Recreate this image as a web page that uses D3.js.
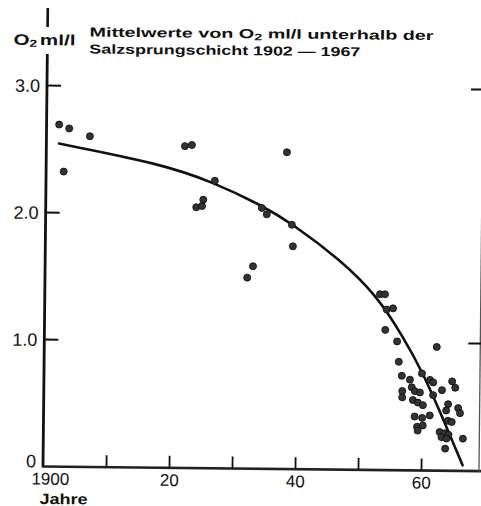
<!DOCTYPE html>
<html>
<head>
<meta charset="utf-8">
<script src="https://cdn.jsdelivr.net/npm/d3@7"></script>
<style>
  html, body { margin: 0; padding: 0; background: #fff; }
  svg { display: block; }
  text { font-family: "Liberation Sans", Arial, sans-serif; fill: #111; }
</style>
</head>
<body>
<svg id="chart" width="481" height="506"></svg>
<script>
// Mean O2 (ml/l) below the halocline, 1902–1967: yearly means and fitted trend.
const obsYears = [
  1902.0, 1903.6, 1906.9, 1902.8,
  1922.0, 1923.1, 1938.2, 1923.9, 1924.8, 1925.0, 1926.8,
  1934.3, 1935.1, 1939.1, 1939.3, 1933.0, 1932.1,
  1953.2, 1954.0, 1954.3, 1955.3, 1954.1, 1956.0, 1956.3, 1956.8, 1962.3,
  1958.1, 1958.4, 1958.9, 1959.7, 1956.9, 1956.9, 1960.0, 1961.3, 1961.8,
  1963.2, 1964.8, 1965.3, 1961.8, 1958.6, 1959.4, 1960.2, 1964.2, 1963.9,
  1965.8, 1966.1, 1958.9, 1961.3, 1960.1, 1959.3, 1960.2, 1959.4, 1964.2,
  1964.8, 1962.9, 1963.7, 1964.3, 1963.2, 1964.0, 1966.6, 1963.8
];
const obsValues = [
  2.69, 2.66, 2.60, 2.32,
  2.53, 2.54, 2.49, 2.05, 2.06, 2.11, 2.26,
  2.05, 2.00, 1.92, 1.75, 1.59, 1.50,
  1.38, 1.38, 1.26, 1.27, 1.10, 1.01, 0.85, 0.74, 0.97,
  0.71, 0.65, 0.62, 0.61, 0.62, 0.57, 0.76, 0.71, 0.69,
  0.63, 0.70, 0.65, 0.59, 0.55, 0.53, 0.51, 0.52, 0.47,
  0.49, 0.45, 0.42, 0.43, 0.41, 0.34, 0.35, 0.31, 0.39,
  0.38, 0.30, 0.29, 0.28, 0.26, 0.25, 0.25, 0.17
];

// Fitted trend curve
const fitYears  = [1902.0, 1918.1, 1926.5, 1934.3, 1939.1, 1946.8, 1952.7, 1956.9, 1960.1, 1963.2, 1966.6];
const fitValues = [2.54,   2.39,   2.25,   2.07,   1.93,   1.65,   1.37,   1.05,   0.77,   0.43,   0.04];

const yTickValues = [0, 1, 2, 3];
const yTickLabels = ["0", "1.0", "2.0", "3.0"];
const xTickValues = [1900, 1910, 1920, 1930, 1940, 1950, 1960];
const xTickLabels = ["1900", "", "20", "", "40", "", "60"];
const rightTickValues = [1, 3];

const svg = d3.select("#chart");

const x = d3.scaleLinear().domain([1900, 1960]).range([43, 421]);
const y = d3.scaleLinear().domain([0, 3]).range([466, 85]);

// whole drawing sits slightly turned, as on the printed sheet
const g = svg.append("g").attr("transform", "rotate(0.6, 43, 466)");

// left axis line, broken around its unit label
g.append("line").attr("x1", 43).attr("x2", 43).attr("y1", 8).attr("y2", 27)
  .attr("stroke", "#111").attr("stroke-width", 2.6);
g.append("line").attr("x1", 43).attr("x2", 43).attr("y1", 54).attr("y2", 467)
  .attr("stroke", "#111").attr("stroke-width", 2.8);

// bottom axis line
g.append("line").attr("x1", 42).attr("x2", 495).attr("y1", 466.5).attr("y2", 466.5)
  .attr("stroke", "#222").attr("stroke-width", 2.6);

// right frame line with inward ticks
g.append("line").attr("x1", 479).attr("x2", 479).attr("y1", y(0) + 1).attr("y2", y(3.2))
  .attr("stroke", "#555").attr("stroke-width", 1.3);
g.selectAll(".rtick").data(rightTickValues).join("line")
  .attr("x1", 467).attr("x2", 480)
  .attr("y1", d => y(d)).attr("y2", d => y(d))
  .attr("stroke", "#111").attr("stroke-width", 2);

// y ticks and labels
const yAxis = d3.axisLeft(y).tickValues(yTickValues)
  .tickFormat((d, i) => yTickLabels[i]).tickSize(-14).tickPadding(7);
const gy = g.append("g").attr("transform", "translate(43,0)").call(yAxis);
gy.select(".domain").remove();
gy.selectAll(".tick line").attr("stroke", "#111").attr("stroke-width", 2)
  .filter(d => d === 0).remove();
gy.selectAll(".tick text")
  .attr("font-family", "Liberation Sans, Arial, sans-serif")
  .attr("font-size", 18).attr("fill", "#111")
  .attr("dy", d => d === 0 ? "0.05em" : "0.36em");

// x ticks and labels
const xAxis = d3.axisBottom(x).tickValues(xTickValues)
  .tickFormat((d, i) => xTickLabels[i]).tickSize(-12).tickPadding(6);
const gx = g.append("g").attr("transform", "translate(0,466.5)").call(xAxis);
gx.select(".domain").remove();
gx.selectAll(".tick line").attr("stroke", "#111").attr("stroke-width", 1.8)
  .filter(d => d === 1900).remove();
gx.selectAll(".tick text")
  .attr("font-family", "Liberation Sans, Arial, sans-serif")
  .attr("font-size", 17).attr("fill", "#111")
  .attr("dx", d => d === 1900 ? 7 : 0);

// axis titles
const yLabel = g.append("text").attr("x", 9).attr("y", 45)
  .attr("font-size", 15).attr("font-weight", "bold")
  .attr("textLength", 62).attr("lengthAdjust", "spacingAndGlyphs");
yLabel.append("tspan").text("O");
yLabel.append("tspan").attr("font-size", 10).attr("dy", 2).text("2");
yLabel.append("tspan").attr("dy", -2).attr("dx", 2).text("ml/l");

g.append("text").attr("x", 40).attr("y", 504)
  .attr("font-size", 15).attr("font-weight", "bold")
  .attr("textLength", 48).attr("lengthAdjust", "spacingAndGlyphs")
  .text("Jahre");

// chart title
const t1 = g.append("text").attr("x", 85).attr("y", 36)
  .attr("font-size", 13).attr("font-weight", "bold")
  .attr("textLength", 344).attr("lengthAdjust", "spacingAndGlyphs");
t1.append("tspan").text("Mittelwerte von O");
t1.append("tspan").attr("font-size", 9.5).attr("dy", 2).text("2");
t1.append("tspan").attr("dy", -2).text(" ml/l unterhalb der");

g.append("text").attr("x", 85).attr("y", 53)
  .attr("font-size", 13).attr("font-weight", "bold")
  .attr("textLength", 271).attr("lengthAdjust", "spacingAndGlyphs")
  .text("Salzsprungschicht  1902 \u2014 1967");

// fitted curve
const fitData = fitYears.map((yr, i) => [yr, fitValues[i]]);
g.append("path").datum(fitData)
  .attr("fill", "none").attr("stroke", "#111").attr("stroke-width", 2.6)
  .attr("stroke-linecap", "round")
  .attr("d", d3.line().x(d => x(d[0])).y(d => y(d[1])).curve(d3.curveBasis));

// yearly means
const obsData = obsYears.map((yr, i) => [yr, obsValues[i]]);
g.selectAll(".dot").data(obsData).join("circle")
  .attr("cx", d => x(d[0])).attr("cy", d => y(d[1]))
  .attr("r", 3.5)
  .attr("fill", "#333").attr("stroke", "#111").attr("stroke-width", 0.9);
</script>
</body>
</html>
